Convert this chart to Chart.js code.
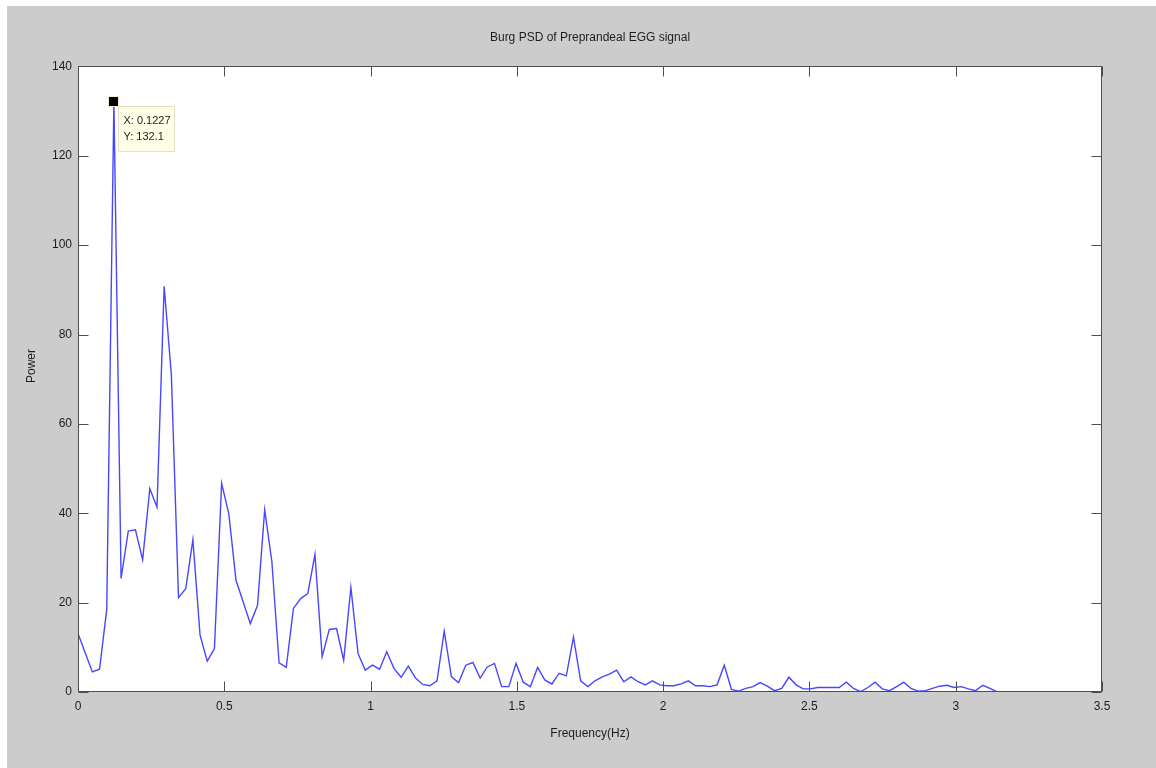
<!DOCTYPE html>
<html>
<head>
<meta charset="utf-8">
<title>Burg PSD of Preprandeal EGG signal</title>
<script src="https://cdn.jsdelivr.net/npm/chart.js@4.4.1/dist/chart.umd.min.js"></script>
<style>
  html, body { margin: 0; padding: 0; background: #ffffff; }
  #wrap { width: 1156px; height: 768px; }
</style>
</head>
<body>
<div id="wrap"><canvas id="psd" width="1156" height="768"></canvas></div>
<script>
// frequency grid of the PSD (Hz), 129 bins
const freq = [
  0, 0.0245, 0.0491, 0.0736, 0.0982, 0.1227, 0.1473, 0.1718, 0.1963, 0.2209,
  0.2454, 0.2700, 0.2945, 0.3191, 0.3436, 0.3682, 0.3927, 0.4172, 0.4418, 0.4663,
  0.4909, 0.5154, 0.5400, 0.5645, 0.5890, 0.6136, 0.6381, 0.6627, 0.6872, 0.7118,
  0.7363, 0.7609, 0.7854, 0.8099, 0.8345, 0.8590, 0.8836, 0.9081, 0.9327, 0.9572,
  0.9817, 1.0063, 1.0308, 1.0554, 1.0799, 1.1045, 1.1290, 1.1536, 1.1781, 1.2026,
  1.2272, 1.2517, 1.2763, 1.3008, 1.3254, 1.3499, 1.3744, 1.3990, 1.4235, 1.4481,
  1.4726, 1.4972, 1.5217, 1.5463, 1.5708, 1.5953, 1.6199, 1.6444, 1.6690, 1.6935,
  1.7181, 1.7426, 1.7671, 1.7917, 1.8162, 1.8408, 1.8653, 1.8899, 1.9144, 1.9390,
  1.9635, 1.9880, 2.0126, 2.0371, 2.0617, 2.0862, 2.1108, 2.1353, 2.1598, 2.1844,
  2.2089, 2.2335, 2.2580, 2.2826, 2.3071, 2.3317, 2.3562, 2.3807, 2.4053, 2.4298,
  2.4544, 2.4789, 2.5035, 2.5280, 2.5525, 2.5771, 2.6016, 2.6262, 2.6507, 2.6753,
  2.6998, 2.7243, 2.7489, 2.7734, 2.7980, 2.8225, 2.8471, 2.8716, 2.8962, 2.9207,
  2.9452, 2.9698, 2.9943, 3.0189, 3.0434, 3.0680, 3.0925, 3.1170, 3.1416
];

// power values
const power = [
  13.1, 8.8, 4.5, 5.1, 18.5, 132.1, 25.4, 36.0, 36.3, 29.6,
  45.5, 41.4, 90.8, 71.0, 21.1, 23.1, 34.1, 12.7, 6.9, 9.7,
  46.7, 39.9, 25.0, 20.2, 15.3, 19.4, 40.8, 29.1, 6.5, 5.5,
  18.7, 20.9, 22.0, 30.8, 7.9, 14.0, 14.2, 7.1, 23.4, 8.6,
  4.9, 6.0, 5.1, 9.0, 5.3, 3.3, 5.8, 3.1, 1.7, 1.4,
  2.5, 13.6, 3.4, 2.1, 6.0, 6.6, 3.1, 5.6, 6.4, 1.2,
  1.2, 6.4, 2.2, 1.2, 5.5, 2.7, 1.8, 4.2, 3.6, 12.3,
  2.5, 1.2, 2.5, 3.4, 4.0, 4.9, 2.3, 3.4, 2.3, 1.6,
  2.5, 1.6, 1.4, 1.4, 1.8, 2.5, 1.4, 1.4, 1.2, 1.6,
  6.0, 0.6, 0.2, 0.8, 1.2, 2.1, 1.3, 0.3, 0.8, 3.3,
  1.6, 0.7, 0.7, 1.0, 1.0, 1.0, 1.0, 2.2, 0.8, 0.1,
  1.0, 2.2, 0.7, 0.3, 1.2, 2.2, 0.8, 0.2, 0.3, 0.8,
  1.3, 1.5, 1.0, 1.2, 0.7, 0.3, 1.5, 0.8, 0.0
];

const xTicks = [0, 0.5, 1, 1.5, 2, 2.5, 3, 3.5];
const yTicks = [0, 20, 40, 60, 80, 100, 120, 140];

// data tip
const tipX = 0.1227;
const tipY = 132.1;

const FIG_GREY = "#cccccc";
const AXIS_COLOR = "#4d4d4d";
const TEXT_COLOR = "#1e1e1e";

Chart.defaults.font.family = "'Liberation Sans', Arial, sans-serif";
Chart.defaults.font.size = 12;
Chart.defaults.color = TEXT_COLOR;

const figurePlugin = {
  id: "figure",
  beforeDraw(chart) {
    const { ctx, chartArea } = chart;
    ctx.save();
    ctx.fillStyle = "#ffffff";
    ctx.fillRect(0, 0, chart.width, chart.height);
    ctx.fillStyle = FIG_GREY;
    ctx.fillRect(7, 6, chart.width - 7, chart.height - 6);
    ctx.fillStyle = "#ffffff";
    ctx.fillRect(chartArea.left, chartArea.top, chartArea.right - chartArea.left, chartArea.bottom - chartArea.top);
    ctx.restore();
  },
  afterDraw(chart) {
    const { ctx, chartArea } = chart;
    const xs = chart.scales.x;
    const ys = chart.scales.y;
    const L = Math.round(chartArea.left) + 0.5;
    const R = Math.round(chartArea.right) - 0.5;
    const T = Math.round(chartArea.top) + 0.5;
    const B = Math.round(chartArea.bottom) - 0.5;
    const tickLen = 10;

    ctx.save();
    ctx.strokeStyle = AXIS_COLOR;
    ctx.lineWidth = 1;
    ctx.beginPath();
    xTicks.forEach((v) => {
      const px = Math.round(xs.getPixelForValue(v)) + 0.5;
      ctx.moveTo(px, B);
      ctx.lineTo(px, B - tickLen);
      ctx.moveTo(px, T);
      ctx.lineTo(px, T + tickLen);
    });
    yTicks.forEach((v) => {
      const py = Math.round(ys.getPixelForValue(v)) + 0.5;
      ctx.moveTo(L, py);
      ctx.lineTo(L + tickLen, py);
      ctx.moveTo(R, py);
      ctx.lineTo(R - tickLen, py);
    });
    ctx.stroke();
    ctx.strokeRect(L, T, R - L, B - T);

    // y label
    ctx.fillStyle = TEXT_COLOR;
    ctx.font = "12px 'Liberation Sans', Arial, sans-serif";
    ctx.textAlign = "center";
    ctx.textBaseline = "middle";
    ctx.translate(32, 366);
    ctx.rotate(-Math.PI / 2);
    ctx.fillText("Power", 0, 0);
    ctx.setTransform(1, 0, 0, 1, 0, 0);

    // data tip marker and box
    const mx = xs.getPixelForValue(tipX);
    const my = ys.getPixelForValue(tipY);
    ctx.fillStyle = "#000000";
    ctx.fillRect(Math.round(mx) - 5, Math.round(my) - 5, 9, 9);
    ctx.strokeStyle = "#f2eed2";
    ctx.strokeRect(Math.round(mx) - 5.5, Math.round(my) - 5.5, 10, 10);

    const bx = Math.round(mx) + 4.5;
    const by = Math.round(my) + 4.5;
    ctx.fillStyle = "#ffffe6";
    ctx.fillRect(bx, by, 56, 45);
    ctx.strokeStyle = "#e3dfc4";
    ctx.strokeRect(bx, by, 56, 45);
    ctx.fillStyle = TEXT_COLOR;
    ctx.font = "11px 'Liberation Sans', Arial, sans-serif";
    ctx.textAlign = "left";
    ctx.textBaseline = "middle";
    ctx.fillText("X: " + tipX, bx + 5, by + 14);
    ctx.fillText("Y: " + tipY, bx + 5, by + 30);
    ctx.restore();
  },
};

new Chart(document.getElementById("psd"), {
  type: "line",
  data: {
    datasets: [
      {
        data: freq.map((f, i) => ({ x: f, y: power[i] })),
        borderColor: "#4747ff",
        borderWidth: 1.4,
        pointRadius: 0,
        tension: 0,
        fill: false,
      },
    ],
  },
  options: {
    responsive: false,
    animation: false,
    events: [],
    layout: { padding: { left: 20, right: 54, top: 6, bottom: 26 } },
    plugins: {
      legend: { display: false },
      tooltip: { enabled: false },
      title: {
        display: true,
        text: "Burg PSD of Preprandeal EGG signal",
        fullSize: false,
        color: TEXT_COLOR,
        font: { size: 12, weight: "normal" },
        padding: { top: 24, bottom: 22 },
      },
    },
    scales: {
      x: {
        type: "linear",
        min: 0,
        max: 3.5,
        grid: { display: false, drawTicks: false },
        border: { display: false },
        afterBuildTicks: (scale) => {
          scale.ticks = xTicks.map((v) => ({ value: v }));
        },
        afterFit: (scale) => {
          scale.height = 50;
        },
        ticks: {
          padding: 7,
          maxRotation: 0,
          autoSkip: false,
          callback: (v) => String(v),
        },
        title: {
          display: true,
          text: "Frequency(Hz)",
          padding: { top: 0, bottom: 1 },
        },
      },
      y: {
        min: 0,
        max: 140,
        grid: { display: false, drawTicks: false },
        border: { display: false },
        afterBuildTicks: (scale) => {
          scale.ticks = yTicks.map((v) => ({ value: v }));
        },
        afterFit: (scale) => {
          scale.width = 58;
        },
        ticks: {
          padding: 6,
          autoSkip: false,
          callback: (v) => String(v),
        },
      },
    },
  },
  plugins: [figurePlugin],
});
</script>
</body>
</html>
